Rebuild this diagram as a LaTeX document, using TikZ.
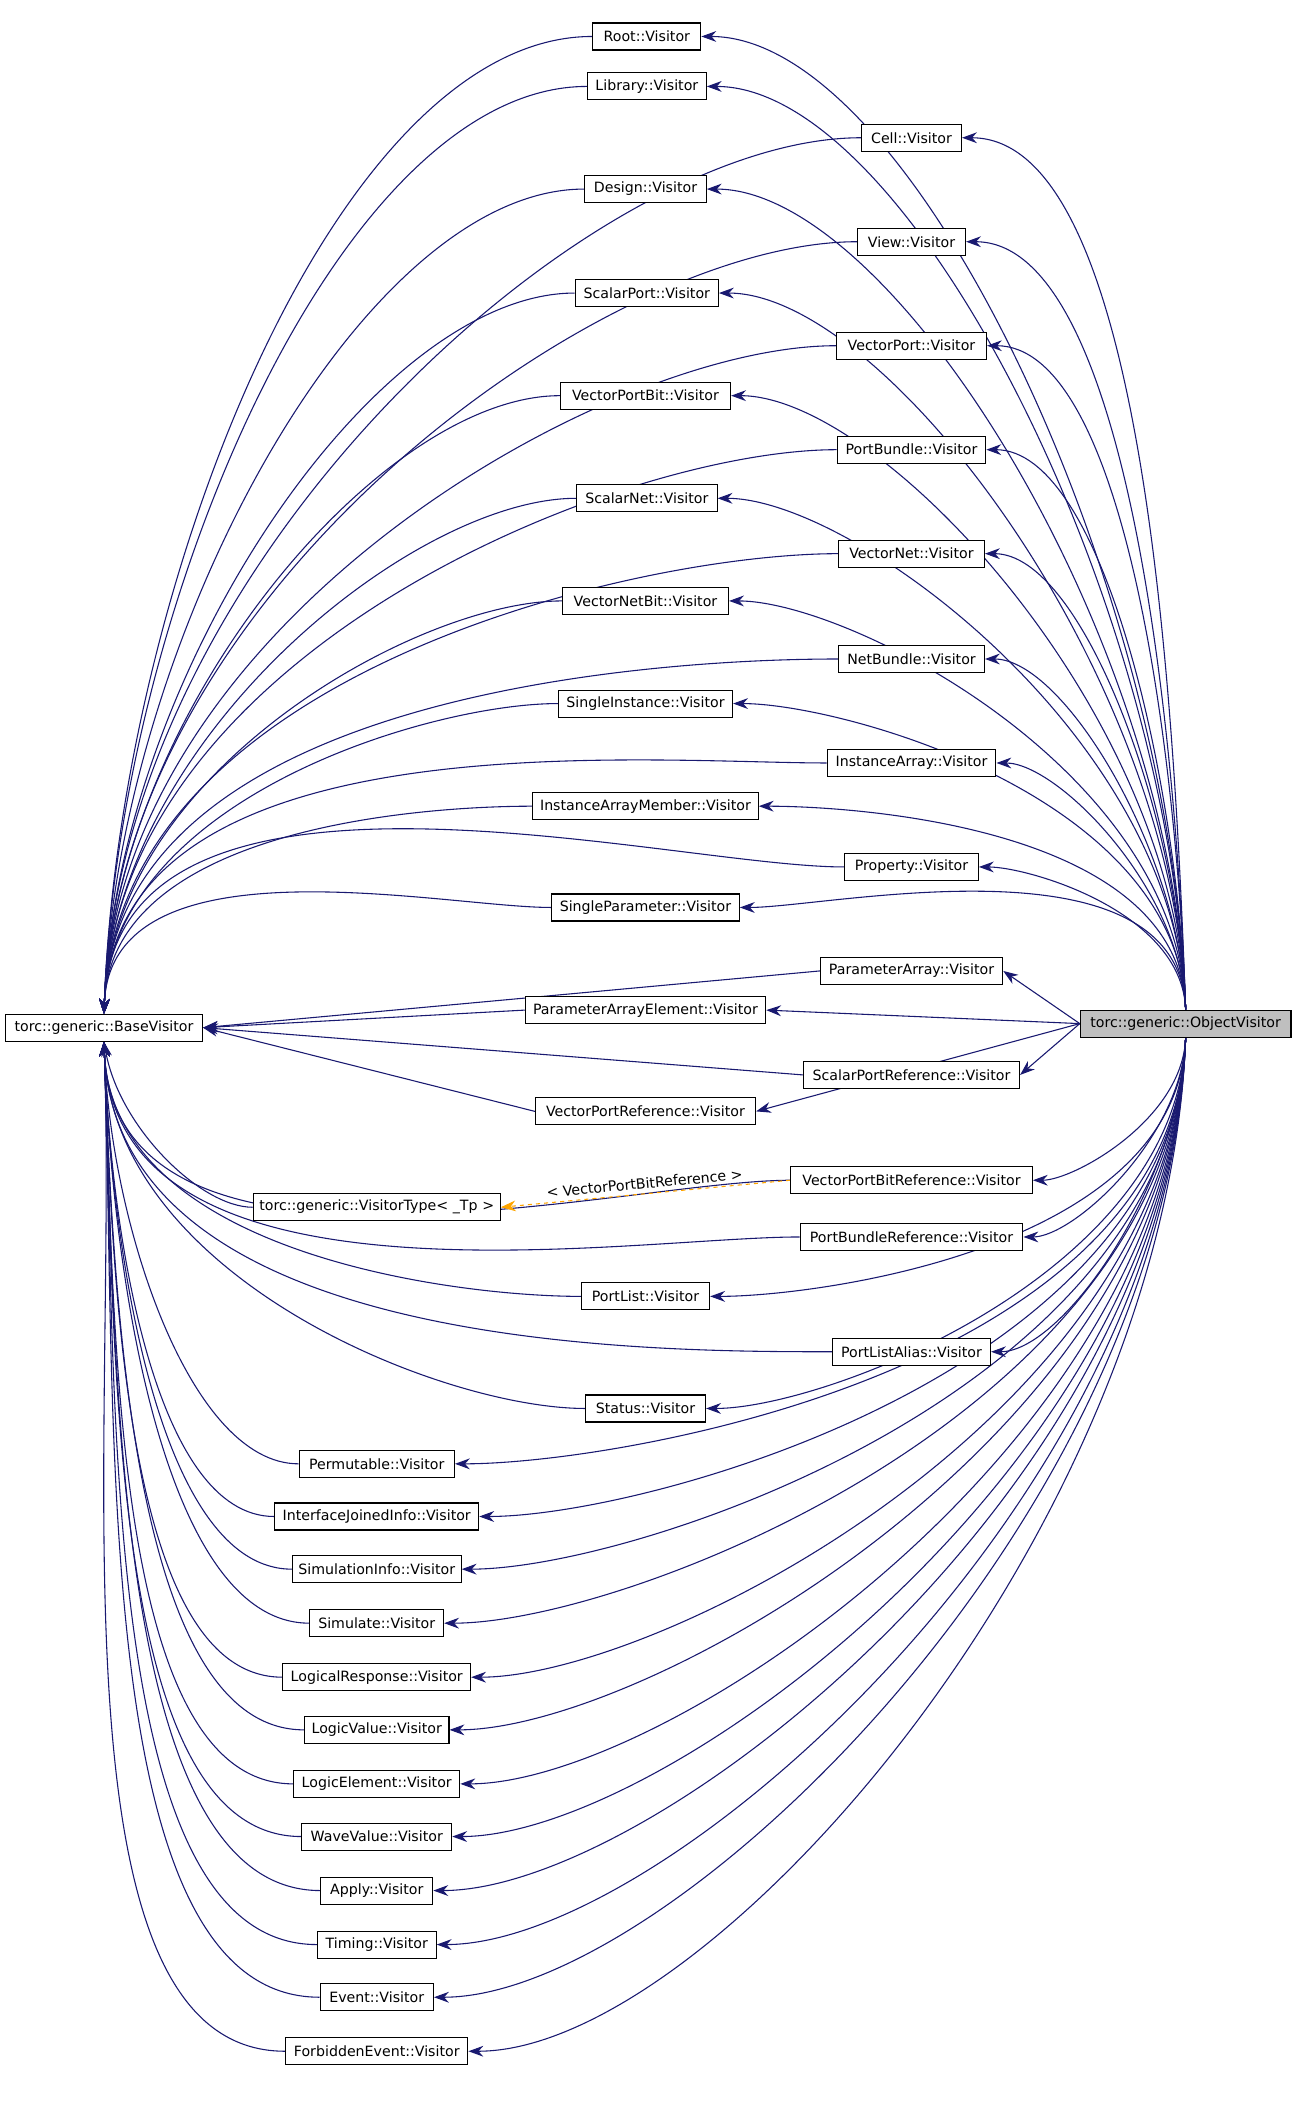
\documentclass[tikz,border=0pt]{standalone}
\usepackage{fontspec}
\setmainfont{DejaVu Sans}
\usetikzlibrary{arrows.meta}
\definecolor{navy}{HTML}{191970}
\definecolor{dep}{HTML}{FFA500}
\definecolor{hl}{HTML}{BFBFBF}
\pgfdeclarelayer{bg}
\pgfsetlayers{bg,main}
\tikzset{
  cls/.style={draw=black, fill=white, line width=0.8pt, inner sep=0pt, minimum height=20pt, text width=#1, align=center, font=\fontsize{10.5}{12}\selectfont},
  cls/.default=100pt,
  inh/.style={draw=navy, line width=0.8pt, -{Stealth[length=11pt,width=8pt]}},
  tpl/.style={draw=dep, line width=0.8pt, dashed, -{Stealth[length=11pt,width=8pt]}},
}
\begin{document}
\begin{tikzpicture}[x=1pt,y=-1pt]
  \useasboundingbox (0,0) rectangle (960,1564);
  \node[cls=146pt] (base) at (77,761) {torc::generic::BaseVisitor};
  \node[cls=156pt, fill=hl] (obj) at (878,758) {torc::generic::ObjectVisitor};
  \node[cls=183pt] (vtype) at (279,894) {torc::generic::VisitorType< \_Tp >};
  % derived classes: name/x/y/width/text
  \foreach \n/\x/\y/\w/\t in {
    root/479/27/80/Root, lib/479/64/88/Library, cell/675/102/74/Cell,
    design/478/140/90/Design, view/675/179/80/View, sport/479/217/106/ScalarPort,
    vport/675/256/111/VectorPort, vpbit/478/293/126/VectorPortBit,
    pbundle/675/333/110/PortBundle, snet/479/369/104/ScalarNet,
    vnet/675/410/108/VectorNet, vnbit/478/445/123/VectorNetBit,
    nbundle/675/488/108/NetBundle, sinst/478/521/129/SingleInstance,
    iarr/675/565/125/InstanceArray, iamem/478/597/167/InstanceArrayMember,
    prop/675/642/99/Property, spar/478/672/139/SingleParameter,
    parr/675/719/135/ParameterArray, pael/478/748/178/ParameterArrayElement,
    spref/675/796/160/ScalarPortReference, vpref/478/823/163/VectorPortReference,
    vpbref/675/874/179/VectorPortBitReference, pbref/675/916/165/PortBundleReference,
    plist/478/960/95/PortList, plalias/675/1001/117/PortListAlias,
    status/478/1043/89/Status, perm/279/1084/115/Permutable,
    ijinfo/279/1123/151/InterfaceJoinedInfo, siminfo/279/1162/125/SimulationInfo,
    sim/279/1202/99/Simulate, lresp/279/1242/139/LogicalResponse,
    lval/279/1281/107/LogicValue, lelem/279/1321/123/LogicElement,
    wval/279/1360/111/WaveValue, apply/279/1400/83/Apply,
    timing/279/1440/88/Timing, event/279/1479/84/Event,
    fevent/279/1519/135/ForbiddenEvent} {
    \node[cls=\w pt] (\n) at (\x,\y) {\t::Visitor};
    \begin{pgfonlayer}{bg}
    \ifnum\y<700
      \draw[inh] (\n.west) to[out=180,in=88,out looseness=0.6,in looseness=1] (base.north);
      \draw[inh] (obj.north) to[out=92,in=0,out looseness=1,in looseness=0.5] (\n.east);
    \else\ifnum\y<830
      \draw[inh] (\n.west) -- (base.east);
      \draw[inh] (obj.west) -- (\n.east);
    \else
      \draw[inh] (\n.west) to[out=180,in=-88,out looseness=0.6,in looseness=1] (base.south);
      \draw[inh] (obj.south) to[out=-92,in=0,out looseness=1,in looseness=0.5] (\n.east);
    \fi\fi
    \end{pgfonlayer}
  }
  \begin{pgfonlayer}{bg}
  \draw[tpl] (vpbref.west) -- node[above, font=\fontsize{10.5}{12}\selectfont, sloped] {< VectorPortBitReference >} (vtype.east);
  \draw[inh] (vtype.west) to[out=180,in=-80,out looseness=0.6] (base.south);
  \end{pgfonlayer}
\end{tikzpicture}
\end{document}
